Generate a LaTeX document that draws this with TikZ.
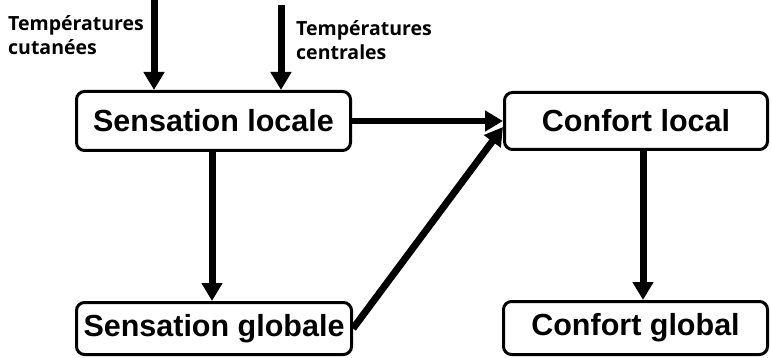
\documentclass[tikz,border=0pt]{standalone}
\usepackage{fontspec}
\setmainfont{Liberation Sans}
\newfontfamily\labfont{Open Sans}
\usetikzlibrary{arrows.meta}
\begin{document}
\begin{tikzpicture}[x=1pt,y=-1pt,
  box/.style={draw=black, line width=3pt, rounded corners=8pt, fill=white,
    inner sep=0pt, font=\bfseries\fontsize{30.5}{31}\selectfont},
  arr/.style={line width=7pt, -{Triangle[width=20pt,length=18pt]}},
  lab/.style={anchor=north west, inner sep=0pt, align=left,
    font=\labfont\bfseries\fontsize{19.5}{24}\selectfont}]
\useasboundingbox (0,0) rectangle (771,358);
\node[box, minimum width=274pt, minimum height=59pt] (sl) at (213.5,121) {Sensation locale};
\node[box, minimum width=263pt, minimum height=57pt] (cl) at (636,121) {Confort local};
\node[box, minimum width=275pt, minimum height=52pt] (sg) at (214,328.5) {Sensation globale};
\node[box, minimum width=264pt, minimum height=53pt] (cg) at (635.5,328) {Confort global};
\node[lab] (t1) at (8,15) {Températures\\cutanées};
\node[lab] (t2) at (296,20) {Températures\\centrales};
\coordinate (a1) at (154,0);
\coordinate (a2) at (281,5);
\draw[arr] (a1) -- (a1 |- sl.north);
\draw[arr] (a2) -- (a2 |- sl.north);
\draw[arr, line width=6pt] (sl.east) -- (cl.west);
\draw[arr] (sl.south -| 212,0) -- (212,0 |- sg.north);
\draw[arr] (cl.south -| 643,0) -- (643,0 |- cg.north);
\draw[arr] (sg.east) -- ([yshift=-6pt]cl.west);
\end{tikzpicture}
\end{document}
